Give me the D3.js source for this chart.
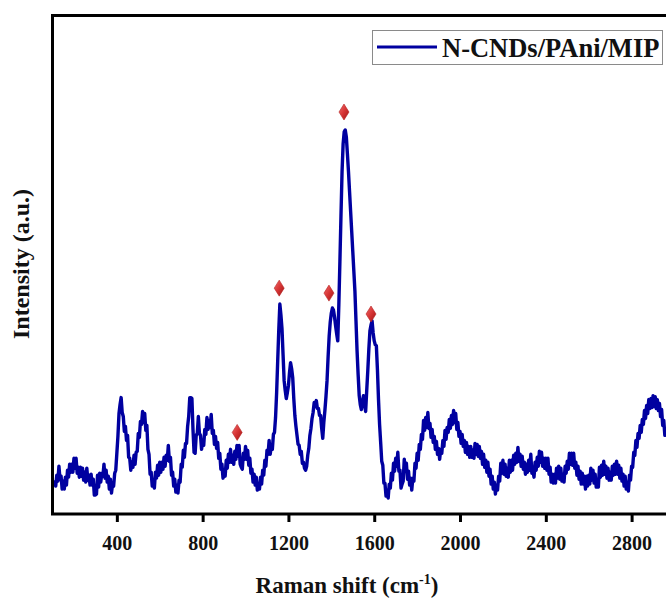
<!DOCTYPE html>
<html>
<head>
<meta charset="utf-8">
<script src="https://cdn.jsdelivr.net/npm/d3@7"></script>
<style>
  html, body { margin: 0; padding: 0; background: #ffffff; }
  svg { display: block; }
  text { font-family: "Times New Roman", "Liberation Serif", serif; font-weight: bold; fill: #111; }
</style>
</head>
<body>
<svg id="chart" width="666" height="599"></svg>
<script>
// Raman spectrum of N-CNDs/PAni/MIP, sampled every 5 cm-1 (arbitrary intensity units)
const ramanShift = d3.range(110, 2961, 5);

const intensity = [
  // 110 – 395
  34,28,39,33,48,35,38,25,33,25,
  37,29,44,37,50,42,50,42,56,46,
  56,41,47,37,47,38,46,34,42,32,
  46,34,39,29,40,29,35,19,19,20,
  39,27,41,32,41,38,50,36,44,32,
  38,25,35,21,30,28,41,44,
  // 400 – 1145
  61,78,101,110,117,102,98,83,88,74,
  79,57,56,44,52,47,59,50,62,63,
  81,77,93,90,103,92,101,84,89,65,
  60,40,42,28,33,26,42,36,49,39,
  52,42,52,45,57,48,59,54,69,53,
  57,39,42,28,35,22,29,21,34,32,
  50,47,64,57,71,71,88,98,117,117,
  116,85,62,61,79,81,98,81,79,65,
  73,69,85,80,97,85,94,87,100,81,
  84,70,78,66,72,56,61,45,50,36,
  42,38,54,46,60,52,65,52,59,50,
  63,55,69,58,69,50,47,45,61,55,
  68,55,64,49,56,41,45,32,40,29,
  37,24,29,25,37,30,44,39,54,48,
  64,60,74,60,68,65,80,82,97,122,
  // 1150 – 1615
  154,185,211,200,186,160,134,124,116,122,
  129,142,152,146,137,116,99,88,79,70,
  69,60,63,51,52,46,44,48,59,66,
  79,86,96,102,112,108,114,106,106,99,
  99,86,76,92,104,118,134,158,179,193,
  202,207,205,198,189,181,174,210,254,300,
  344,372,384,386,379,362,344,324,304,284,
  264,244,224,194,164,140,119,110,105,112,
  119,110,103,124,144,166,184,190,194,182,
  174,170,169,145,
  // 1620 – 2960
  115,90,72,53,49,31,31,18,24,16,
  30,26,41,34,51,43,56,48,62,43,
  44,26,30,33,55,43,51,35,43,29,
  36,24,36,33,51,46,61,54,70,65,
  80,75,94,84,97,87,102,86,91,77,
  85,72,78,65,73,60,66,55,65,61,
  74,68,84,75,87,82,95,86,99,90,
  104,92,101,85,92,78,83,71,80,68,
  74,62,72,60,68,57,68,57,64,56,
  71,60,70,58,68,56,63,50,60,47,
  54,42,52,38,45,30,38,25,32,20,
  29,24,38,33,51,41,54,40,50,38,
  46,37,54,42,54,44,59,50,61,52,
  67,53,60,48,58,45,52,40,50,42,
  54,44,60,41,44,37,52,44,57,48,
  63,52,62,48,56,46,56,44,56,40,
  47,32,40,31,40,31,46,36,48,35,
  46,33,40,32,48,41,53,45,61,50,
  61,49,61,46,52,39,48,35,43,30,
  41,30,38,25,38,28,39,30,46,34,
  44,31,40,27,34,27,47,37,49,39,
  53,40,48,36,46,34,42,34,48,39,
  50,40,53,40,49,36,46,33,40,28,
  38,25,32,23,39,34,48,47,62,59,
  74,67,81,76,89,82,95,90,104,96,
  109,101,115,106,116,107,119,108,118,106,
  115,104,111,98,105,89,94,79,82
];

// Marked bands (diamonds above the assigned peaks)
const markerShift = [961, 1157, 1389, 1459, 1585];
const markerIntensity = [82, 227, 222, 404, 201];

const xTicks = [400, 800, 1200, 1600, 2000, 2400, 2800];
const seriesName = "N-CNDs/PAni/MIP";
const xTitle = "Raman shift (cm";
const yTitle = "Intensity (a.u.)";

const data = ramanShift.map((s, i) => ({ s, v: intensity[i] }));

const svg = d3.select("#chart");
const plot = { left: 52.5, right: 674.5, top: 15.5, bottom: 514 };

const x = d3.scaleLinear().domain([100, 3000]).range([plot.left, plot.right]);
const y = d3.scaleLinear().domain([0, 500]).range([plot.bottom, plot.top + 1]);

// defs: clip + diamond shading
const defs = svg.append("defs");
defs.append("clipPath").attr("id", "plotClip")
  .append("rect")
  .attr("x", plot.left + 1.5).attr("y", plot.top + 1.5)
  .attr("width", plot.right - plot.left - 3).attr("height", plot.bottom - plot.top - 3);

const grad = defs.append("linearGradient").attr("id", "diamondFill")
  .attr("x1", "0%").attr("y1", "0%").attr("x2", "100%").attr("y2", "100%");
grad.append("stop").attr("offset", "0%").attr("stop-color", "#f06a6a");
grad.append("stop").attr("offset", "50%").attr("stop-color", "#d63434");
grad.append("stop").attr("offset", "100%").attr("stop-color", "#9e1414");

// spectrum
const line = d3.line().x(d => x(d.s)).y(d => y(d.v));
svg.append("g").attr("clip-path", "url(#plotClip)")
  .append("path")
  .datum(data)
  .attr("d", line)
  .attr("fill", "none")
  .attr("stroke", "#0000a0")
  .attr("stroke-width", 3.4)
  .attr("stroke-linejoin", "round");

// peak markers
svg.append("g").selectAll("path.marker")
  .data(markerShift.map((s, i) => ({ s, v: markerIntensity[i] })))
  .join("path")
  .attr("class", "marker")
  .attr("transform", d => `translate(${x(d.s)},${y(d.v)})`)
  .attr("d", "M0,-8 L5,0 L0,8 L-5,0 Z")
  .attr("fill", "url(#diamondFill)")
  .attr("stroke", "#b52222")
  .attr("stroke-width", 0.6);

// frame
svg.append("rect")
  .attr("x", plot.left).attr("y", plot.top)
  .attr("width", plot.right - plot.left).attr("height", plot.bottom - plot.top)
  .attr("fill", "none").attr("stroke", "#000").attr("stroke-width", 3);

// bottom axis
const xAxis = d3.axisBottom(x).tickValues(xTicks).tickFormat(d3.format("d"))
  .tickSize(8).tickSizeOuter(0).tickPadding(14);
const gx = svg.append("g").attr("transform", `translate(0,${plot.bottom})`).call(xAxis);
gx.select(".domain").remove();
gx.selectAll(".tick line").attr("stroke", "#000").attr("stroke-width", 3);
gx.selectAll(".tick text")
  .attr("font-family", "'Times New Roman', 'Liberation Serif', serif")
  .attr("font-weight", "bold").attr("font-size", 20).attr("fill", "#111");

// axis titles
const xt = svg.append("text")
  .attr("x", 347).attr("y", 593)
  .attr("text-anchor", "middle").attr("font-size", 23);
xt.append("tspan").text(xTitle);
xt.append("tspan").attr("font-size", 14).attr("dy", -9).text("-1");
xt.append("tspan").attr("dy", 9).text(")");

svg.append("text")
  .attr("transform", "translate(29,264) rotate(-90)")
  .attr("text-anchor", "middle").attr("font-size", 24)
  .text(yTitle);

// legend
const lg = svg.append("g");
lg.append("rect").attr("x", 372.5).attr("y", 30.5).attr("width", 290).attr("height", 34)
  .attr("fill", "#fff").attr("stroke", "#8a8a8a").attr("stroke-width", 1);
lg.append("line").attr("x1", 377).attr("x2", 437).attr("y1", 47).attr("y2", 47)
  .attr("stroke", "#0000a0").attr("stroke-width", 3);
lg.append("text").attr("x", 442).attr("y", 57).attr("font-size", 26.5).text(seriesName);
</script>
</body>
</html>
